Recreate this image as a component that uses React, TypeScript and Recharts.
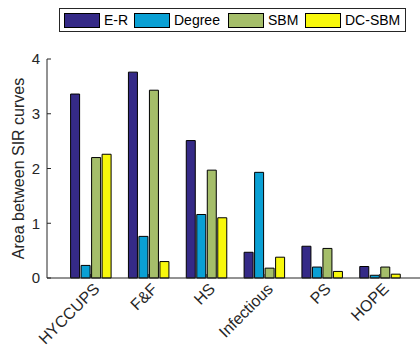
import React from 'react'
import { BarChart, Bar, XAxis, YAxis } from 'recharts'

const datasets = ['HYCCUPS', 'F&F', 'HS', 'Infectious', 'PS', 'HOPE']
const erValues = [3.36, 3.76, 2.51, 0.47, 0.58, 0.21]
const degreeValues = [0.23, 0.76, 1.16, 1.93, 0.2, 0.05]
const sbmValues = [2.2, 3.43, 1.97, 0.18, 0.54, 0.2]
const dcsbmValues = [2.26, 0.3, 1.1, 0.38, 0.12, 0.07]
const yTicks = [0, 1, 2, 3, 4]

const series = [
  { key: 'er', name: 'E-R', color: '#352a87', values: erValues },
  { key: 'degree', name: 'Degree', color: '#0aa0d4', values: degreeValues },
  { key: 'sbm', name: 'SBM', color: '#a5be6a', values: sbmValues },
  { key: 'dcsbm', name: 'DC-SBM', color: '#f8f80c', values: dcsbmValues },
]

const data = datasets.map((name, i) => {
  const row: Record<string, string | number> = { name }
  series.forEach((s) => {
    row[s.key] = s.values[i]
  })
  return row
})

const font = '"Liberation Sans", Arial, Helvetica, sans-serif'
const axisColor = '#262626'

function RotatedTick(props: any) {
  const { x, y, payload } = props
  const ax = x + 10
  const ay = y + 12
  return (
    <text
      x={ax}
      y={ay}
      transform={`rotate(-45, ${ax}, ${ay})`}
      textAnchor="end"
      fontSize={16}
      fontFamily={font}
      fill={axisColor}
    >
      {payload.value}
    </text>
  )
}

function YLabel(props: any) {
  const { viewBox } = props
  const cx = 24
  const cy = viewBox.y + viewBox.height / 2
  return (
    <text
      x={cx}
      y={cy}
      transform={`rotate(-90, ${cx}, ${cy})`}
      textAnchor="middle"
      fontSize={16}
      fontFamily={font}
      fill={axisColor}
    >
      Area between SIR curves
    </text>
  )
}

export default function App() {
  return (
    <div style={{ position: 'absolute', left: 0, top: 0, width: 420, height: 354, overflow: 'hidden', background: '#fff' }}>
      <BarChart
        width={422}
        height={354}
        data={data}
        margin={{ top: 59, right: 1, bottom: 0, left: 7 }}
        barCategoryGap={9}
        barGap={1.5}
      >
        <XAxis
          dataKey="name"
          interval={0}
          height={76}
          padding={{ left: 14.6, right: 12.4 }}
          stroke={axisColor}
          tickSize={-4}
          tickMargin={4}
          tick={<RotatedTick />}
        />
        <XAxis
          xAxisId="top"
          orientation="top"
          dataKey="name"
          interval={0}
          height={0}
          padding={{ left: 14.6, right: 12.4 }}
          stroke={axisColor}
          tickSize={-4}
          tick={false}
        />
        <YAxis
          domain={[0, 4]}
          ticks={yTicks}
          width={40}
          stroke={axisColor}
          tickSize={-4}
          tickMargin={11}
          tick={{ fontSize: 15, fontFamily: font, fill: axisColor }}
          label={<YLabel />}
        />
        <YAxis
          yAxisId="right"
          orientation="right"
          domain={[0, 4]}
          ticks={yTicks}
          width={0}
          stroke={axisColor}
          tickSize={-4}
          tick={false}
        />
        {series.map((s) => (
          <Bar
            key={s.key}
            dataKey={s.key}
            name={s.name}
            fill={s.color}
            stroke="#000"
            strokeWidth={1}
            isAnimationActive={false}
          />
        ))}
      </BarChart>
      <div
        style={{
          position: 'absolute',
          left: 59,
          top: 8,
          width: 345,
          height: 22,
          border: '1px solid #262626',
          background: '#fff',
          fontFamily: font,
          fontSize: 14,
          color: '#000',
        }}
      >
        {series.map((s, i) => {
          const lefts = [4, 74, 168, 245]
          return (
            <div key={s.key} style={{ position: 'absolute', left: lefts[i], top: 4, display: 'flex', alignItems: 'center', height: 15 }}>
              <div style={{ width: 34, height: 13, background: s.color, border: '1px solid #000' }} />
              <span style={{ marginLeft: 4, lineHeight: '15px' }}>{s.name}</span>
            </div>
          )
        })}
      </div>
    </div>
  )
}
